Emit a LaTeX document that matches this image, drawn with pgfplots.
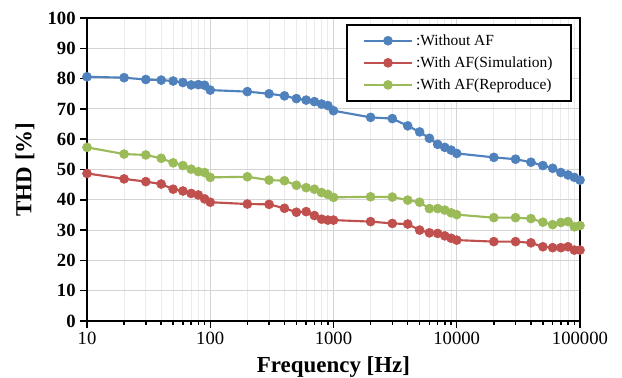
\documentclass[border=0pt]{standalone}
\usepackage{fontspec}
\setmainfont{Liberation Serif}
\usepackage{pgfplots}
\pgfplotsset{compat=1.18}
\definecolor{cblue}{HTML}{4F81BD}
\definecolor{cred}{HTML}{C0504D}
\definecolor{cgreen}{HTML}{9BBB59}
\begin{document}
\begin{tikzpicture}
\useasboundingbox (0,0) rectangle (466.5pt,283.5pt);
\begin{axis}[
  at={(65.25pt,42.75pt)}, anchor=south west,
  scale only axis, width=369.75pt, height=227.25pt,
  xmode=log, xmin=10, xmax=100000, ymin=0, ymax=100,
  xtick={10,100,1000,10000,100000},
  xticklabels={10,100,1000,10000,100000},
  ytick={0,10,...,100},
  /pgf/number format/assume math mode=true,
  xtick pos=bottom, ytick pos=left,
  tick align=outside,
  major tick length=5pt, minor tick length=3pt,
  every tick/.style={black, line width=1.1pt},
  axis line style={line width=1.6pt},
  xmajorgrids=true, xminorgrids=true, ymajorgrids=true,
  major grid style={color=black!17, line width=0.8pt},
  minor grid style={color=black!8, line width=0.7pt},
  x tick label style={font=\fontsize{14}{14}\selectfont},
  y tick label style={font=\fontsize{14}{14}\selectfont\bfseries},
  xlabel={\bfseries Frequency [Hz]},
  ylabel={\bfseries THD [\%]},
  label style={font=\fontsize{17.2}{17.2}\selectfont},
  xlabel style={yshift=-2pt},
  ylabel style={yshift=3pt},
  clip=false,
  legend cell align=left,
  legend style={at={(0.984,0.980)}, anchor=north east, draw=black, line width=1.5pt,
    font=\fontsize{11.6}{13}\selectfont, inner xsep=12pt, inner ysep=5pt, row sep=3pt},
  legend image code/.code={\draw[mark repeat=2,mark phase=2,#1] plot coordinates {(0cm,0cm)(0.63cm,0cm)(1.27cm,0cm)};},
  every axis plot/.append style={line width=1.6pt},
]
\addplot[color=cblue, mark=*, mark size=3.4pt, mark options={solid, fill=cblue, draw=cblue, line width=0.4pt}] coordinates {
(10,80.6)(20,80.3)(30,79.7)(40,79.5)(50,79.2)(60,78.7)(70,77.9)(80,78.0)(90,77.8)(100,76.2)
(200,75.7)(300,75.0)(400,74.3)(500,73.4)(600,72.9)(700,72.4)(800,71.6)(900,71.1)(1000,69.4)
(2000,67.2)(3000,66.8)(4000,64.4)(5000,62.4)(6000,60.3)(7000,58.3)(8000,57.3)(9000,56.4)(10000,55.3)
(20000,54.0)(30000,53.4)(40000,52.4)(50000,51.3)(60000,50.4)(70000,49.0)(80000,48.2)(90000,47.4)(100000,46.5)};
\addlegendentry{:Without AF}
\addplot[color=cred, mark=*, mark size=3.4pt, mark options={solid, fill=cred, draw=cred, line width=0.4pt}] coordinates {
(10,48.7)(20,46.9)(30,46.0)(40,45.2)(50,43.5)(60,42.9)(70,42.1)(80,41.6)(90,40.3)(100,39.2)
(200,38.6)(300,38.5)(400,37.2)(500,35.9)(600,36.1)(700,34.8)(800,33.6)(900,33.3)(1000,33.3)
(2000,32.8)(3000,32.2)(4000,32.0)(5000,30.0)(6000,29.1)(7000,28.9)(8000,28.1)(9000,27.3)(10000,26.7)
(20000,26.2)(30000,26.2)(40000,25.8)(50000,24.5)(60000,24.2)(70000,24.2)(80000,24.5)(90000,23.4)(100000,23.4)};
\addlegendentry{:With AF(Simulation)}
\addplot[color=cgreen, mark=*, mark size=3.4pt, mark options={solid, fill=cgreen, draw=cgreen, line width=0.4pt}] coordinates {
(10,57.3)(20,55.1)(30,54.8)(40,53.7)(50,52.2)(60,51.3)(70,50.1)(80,49.3)(90,49.0)(100,47.4)
(200,47.6)(300,46.5)(400,46.3)(500,44.8)(600,44.0)(700,43.5)(800,42.4)(900,41.8)(1000,40.8)
(2000,41.0)(3000,40.9)(4000,39.9)(5000,39.2)(6000,37.1)(7000,37.1)(8000,36.6)(9000,35.7)(10000,35.1)
(20000,34.1)(30000,34.1)(40000,33.8)(50000,32.6)(60000,31.8)(70000,32.5)(80000,32.8)(90000,31.1)(100000,31.5)};
\addlegendentry{:With AF(Reproduce)}
\end{axis}
\end{tikzpicture}
\end{document}
